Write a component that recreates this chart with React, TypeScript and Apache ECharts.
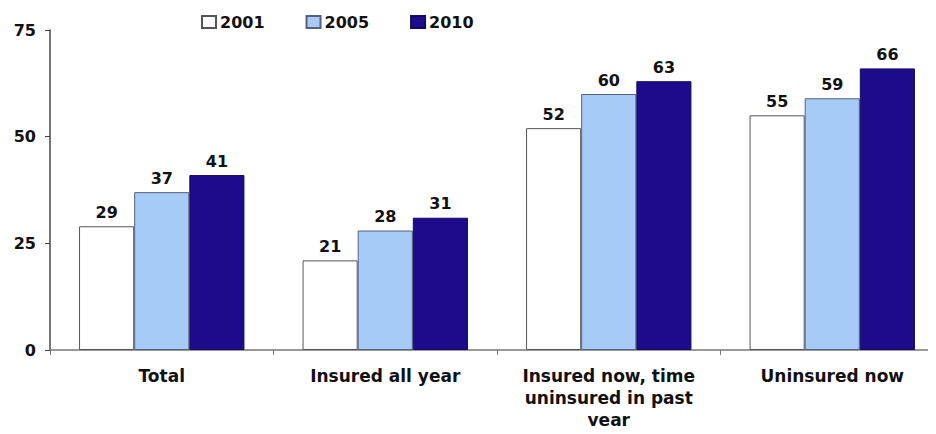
import React, { useEffect, useRef } from "react";
import * as echarts from "echarts";

const categories = ["Total", "Insured all year", "Insured now, time\nuninsured in past\nyear", "Uninsured now"];
const seriesNames = ["2001", "2005", "2010"];
const values2001 = [29, 21, 52, 55];
const values2005 = [37, 28, 60, 59];
const values2010 = [41, 31, 63, 66];
const yTicks = [0, 25, 50, 75];

const colors = ["#ffffff", "#a6cbf7", "#1c0c8c"];
const borders = ["#555555", "#55607a", "#140a60"];

export default function App() {
  const ref = useRef<HTMLDivElement>(null);
  useEffect(() => {
    if (!ref.current) return;
    const chart = echarts.init(ref.current, null, { renderer: "svg" });
    const font = "'DejaVu Sans', 'Liberation Sans', sans-serif";
    const data = [values2001, values2005, values2010];
    chart.setOption({
      animation: false,
      backgroundColor: "#ffffff",
      textStyle: { fontFamily: font },
      legend: {
        top: 9,
        left: 196,
        itemGap: 41,
        itemWidth: 14,
        itemHeight: 12,
        icon: "rect",
        textStyle: { fontFamily: font, fontWeight: "bold", fontSize: 16, color: "#111", padding: [0, 0, 0, -1] },
        data: seriesNames,
      },
      grid: { left: 50, width: 894, top: 30, bottom: 84, containLabel: false },
      xAxis: {
        type: "category",
        data: categories,
        axisLine: { lineStyle: { color: "#777", width: 1.5 } },
        axisTick: { show: true, length: 5, lineStyle: { color: "#777" } },
        axisLabel: {
          fontFamily: font,
          fontWeight: "bold",
          fontSize: 17,
          color: "#111",
          margin: 15,
          lineHeight: 22,
          interval: 0,
        },
      },
      yAxis: {
        type: "value",
        min: 0,
        max: 75,
        interval: 25,
        splitLine: { show: false },
        axisLine: { show: true, lineStyle: { color: "#444", width: 1.5 } },
        axisTick: { show: true, length: 5, lineStyle: { color: "#444" } },
        axisLabel: {
          fontFamily: font,
          fontWeight: "bold",
          fontSize: 16,
          color: "#111",
          margin: 14,
          customValues: yTicks,
        },
      },
      series: seriesNames.map((name, i) => ({
        name,
        type: "bar",
        data: data[i],
        barGap: "0%",
        barCategoryGap: "26%",
        itemStyle: { color: colors[i], borderColor: borders[i], borderWidth: 1 },
        label: {
          show: true,
          position: "top",
          distance: 6,
          fontFamily: font,
          fontWeight: "bold",
          fontSize: 16,
          color: "#111",
        },
      })),
    });
    return () => chart.dispose();
  }, []);
  return (
    <div style={{ width: 936, height: 434, margin: -8, overflow: "hidden", position: "relative" }}>
      <div ref={ref} style={{ width: 948, height: 434 }} />
    </div>
  );
}
